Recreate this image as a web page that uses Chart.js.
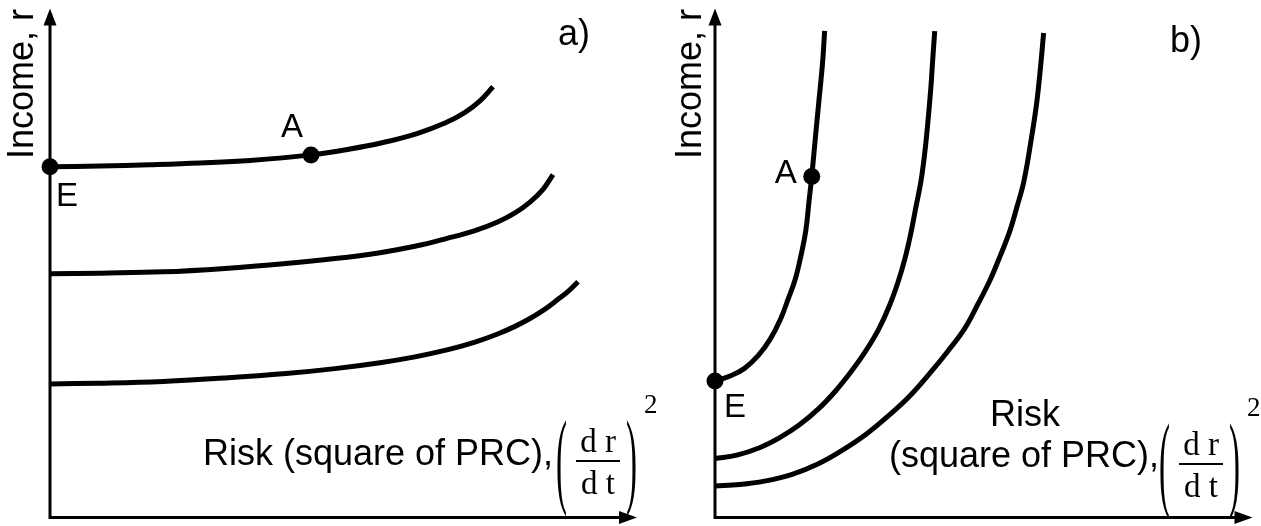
<!DOCTYPE html>
<html>
<head>
<meta charset="utf-8">
<script src="https://cdn.jsdelivr.net/npm/chart.js@4.4.1/dist/chart.umd.min.js"></script>
<style>
  html, body { margin: 0; padding: 0; background: #fff; }
  #wrap { position: relative; width: 1261px; height: 526px; overflow: hidden; }
  canvas { position: absolute; top: 0; }
  #chartA { left: 0; }
  #chartB { left: 640px; }
</style>
</head>
<body>
<div id="wrap">
  <canvas id="chartB" width="621" height="526"></canvas>
  <canvas id="chartA" width="680" height="526"></canvas>
</div>
<script>
// panel a) - flat indifference curves (risk on x, income on y)
var riskA1   = [0, 8.52, 17.04, 25.55, 34.07, 44.46, 51.11, 56.73, 62.52, 67.29, 70.70, 73.25, 75.47];
var incomeA1 = [68.92, 69.05, 69.31, 69.65, 70.15, 71.24, 72.39, 73.67, 75.44, 77.49, 79.61, 81.87, 84.63];
var riskA2   = [0, 8.52, 19.25, 29.81, 40.20, 48.55, 56.22, 62.18, 67.63, 72.40, 76.15, 79.22, 81.77, 83.99, 85.69];
var incomeA2 = [47.88, 48.01, 48.26, 48.94, 49.90, 50.87, 52.03, 53.28, 54.83, 56.37, 58.01, 59.85, 61.97, 64.48, 67.37];
var riskA3   = [0, 8.52, 19.25, 29.81, 40.20, 48.55, 56.22, 62.18, 67.63, 72.40, 76.15, 79.22, 81.77, 84.33, 86.54, 88.42, 89.95];
var incomeA3 = [26.25, 26.39, 26.74, 27.41, 28.28, 29.25, 30.41, 31.56, 32.92, 34.46, 36.00, 37.55, 39.09, 40.93, 42.86, 44.59, 46.33];

// panel b) - steep indifference curves
var riskB1   = [0, 2.8, 5.5, 8.1, 10.3, 12.2, 13.6, 14.9, 16.0, 16.9, 17.5, 18.0, 18.6, 19.3, 20.0, 20.4];
var incomeB1 = [26.8, 27.8, 29.3, 31.9, 35.1, 39.0, 42.9, 46.7, 51.5, 56.4, 62.2, 67.0, 73.8, 81.5, 89.2, 95.6];
var riskB2   = [0, 4.05, 8.29, 11.97, 15.65, 19.34, 22.47, 25.41, 27.99, 30.39, 32.41, 34.07, 35.36, 36.46, 37.38, 38.31, 39.04, 39.60, 40.15, 40.52, 40.88];
var incomeB2 = [11.58, 12.26, 13.71, 15.64, 18.15, 21.43, 24.90, 28.76, 32.63, 36.87, 41.51, 46.33, 50.97, 55.98, 61.00, 66.02, 71.81, 77.61, 84.36, 90.15, 95.56];
var riskB3   = [0, 4.60, 9.21, 14.36, 19.34, 23.57, 28.18, 32.78, 36.46, 40.15, 43.28, 46.41, 48.80, 51.20, 53.04, 54.88, 56.17, 57.46, 58.75, 59.85, 60.59, 61.14];
var incomeB3 = [6.18, 6.47, 7.14, 8.49, 10.62, 13.13, 16.41, 20.46, 24.13, 28.57, 32.63, 37.07, 41.70, 46.72, 51.35, 56.37, 61.00, 66.02, 73.75, 81.47, 88.80, 95.17];

// marked points: names, risk, income
var pointNamesA  = ['E', 'A'];
var pointRiskA   = [0, 44.46];
var pointIncomeA = [68.92, 71.24];
var pointNamesB  = ['E', 'A'];
var pointRiskB   = [0, 18.0];
var pointIncomeB = [26.8, 67.0];

var SANS = '"Liberation Sans", Arial, sans-serif';
var SERIF = '"Liberation Serif", "Times New Roman", serif';

function curve(xs, ys) {
    return {
        data: xs.map(function (x, i) { return { x: x, y: ys[i] }; }),
        showLine: true,
        borderColor: '#000',
        borderWidth: 5,
        borderCapStyle: 'butt',
        pointRadius: 0,
        tension: 0.4,
        fill: false,
        clip: false
    };
}

function dots(xs, ys) {
    return {
        data: xs.map(function (x, i) { return { x: x, y: ys[i] }; }),
        showLine: false,
        pointRadius: 8.5,
        pointBackgroundColor: '#000',
        pointBorderColor: '#000',
        pointBorderWidth: 0,
        clip: false
    };
}

// axes with arrow heads, drawn under the curves
var axesPlugin = {
    id: 'axesArrows',
    beforeDatasetsDraw: function (chart) {
        var ctx = chart.ctx, a = chart.chartArea;
        ctx.save();
        ctx.strokeStyle = '#000';
        ctx.fillStyle = '#000';
        ctx.lineWidth = 3;
        ctx.beginPath();
        ctx.moveTo(a.left, a.top + 10);
        ctx.lineTo(a.left, a.bottom);
        ctx.lineTo(a.right - 10, a.bottom);
        ctx.stroke();
        // arrow heads
        ctx.beginPath();
        ctx.moveTo(a.left, a.top);
        ctx.lineTo(a.left - 6.5, a.top + 17);
        ctx.lineTo(a.left + 6.5, a.top + 17);
        ctx.closePath();
        ctx.fill();
        ctx.beginPath();
        ctx.moveTo(a.right, a.bottom);
        ctx.lineTo(a.right - 18, a.bottom - 6.5);
        ctx.lineTo(a.right - 18, a.bottom + 6.5);
        ctx.closePath();
        ctx.fill();
        ctx.restore();
    }
};

function drawFraction(ctx, x, y) {
    // (dr/dt)^2 with tall parentheses; x = left edge, y = fraction bar
    ctx.save();
    ctx.fillStyle = '#000';
    ctx.textBaseline = 'alphabetic';
    ctx.font = '33px ' + SERIF;
    ctx.textAlign = 'center';
    ctx.fillText('d r', x + 42, y - 9);
    ctx.fillText('d t', x + 42, y + 33);
    ctx.fillRect(x + 20, y - 1, 44, 2);
    ctx.font = '27px ' + SERIF;
    ctx.textAlign = 'left';
    ctx.fillText('2', x + 88, y - 48);
    ctx.font = '30px ' + SERIF;
    ctx.save();
    ctx.translate(x, y + 33);
    ctx.scale(1.1, 3.5);
    ctx.fillText('(', 0, 0);
    ctx.restore();
    ctx.save();
    ctx.translate(x + 70, y + 33);
    ctx.scale(1.1, 3.5);
    ctx.fillText(')', 0, 0);
    ctx.restore();
    ctx.restore();
}

// axis titles, panel letters and point names
var labelsPlugin = {
    id: 'figureLabels',
    afterDatasetsDraw: function (chart, args, opts) {
        var ctx = chart.ctx;
        var xs = chart.scales.x, ys = chart.scales.y;
        ctx.save();
        ctx.fillStyle = '#000';
        ctx.textBaseline = 'alphabetic';

        // vertical axis title
        ctx.save();
        ctx.font = '36px ' + SANS;
        ctx.textAlign = 'center';
        ctx.translate(opts.yTitle[0], opts.yTitle[1]);
        ctx.rotate(-Math.PI / 2);
        ctx.fillText('Income, r', 0, 0);
        ctx.restore();

        // panel letter
        ctx.font = '36px ' + SANS;
        ctx.textAlign = 'left';
        ctx.fillText(opts.letter, opts.letterPos[0], opts.letterPos[1]);

        // horizontal axis title
        ctx.textAlign = opts.xTitleAlign;
        opts.xTitle.forEach(function (t) {
            ctx.fillText(t[0], t[1], t[2]);
        });
        drawFraction(ctx, opts.fraction[0], opts.fraction[1]);

        // point names next to the dots
        ctx.font = '33px ' + SANS;
        ctx.textAlign = 'left';
        opts.names.forEach(function (n, i) {
            var px = xs.getPixelForValue(opts.risk[i]);
            var py = ys.getPixelForValue(opts.income[i]);
            ctx.fillText(n, px + opts.nameOffsets[i][0], py + opts.nameOffsets[i][1]);
        });
        ctx.restore();
    }
};

function makeChart(id, datasets, padding, labelOpts) {
    return new Chart(document.getElementById(id), {
        type: 'scatter',
        data: { datasets: datasets },
        options: {
            responsive: false,
            animation: false,
            devicePixelRatio: 1,
            events: [],
            layout: { padding: padding },
            scales: {
                x: { type: 'linear', min: 0, max: 100, display: false },
                y: { type: 'linear', min: 0, max: 100, display: false }
            },
            plugins: {
                legend: { display: false },
                tooltip: { enabled: false },
                figureLabels: labelOpts
            }
        },
        plugins: [axesPlugin, labelsPlugin]
    });
}

makeChart('chartA', [
    curve(riskA1, incomeA1),
    curve(riskA2, incomeA2),
    curve(riskA3, incomeA3),
    dots(pointRiskA, pointIncomeA)
], { left: 50, right: 43, top: 4, bottom: 4 }, {
    yTitle: [33, 84],
    letter: 'a)',
    letterPos: [558, 45],
    xTitleAlign: 'right',
    xTitle: [['Risk (square of PRC),', 553, 465]],
    fraction: [556, 461],
    names: pointNamesA,
    risk: pointRiskA,
    income: pointIncomeA,
    nameOffsets: [[6, 39], [-30, -18]]
});

makeChart('chartB', [
    curve(riskB1, incomeB1),
    curve(riskB2, incomeB2),
    curve(riskB3, incomeB3),
    dots(pointRiskB, pointIncomeB)
], { left: 75, right: 3, top: 4, bottom: 4 }, {
    yTitle: [61, 84],
    letter: 'b)',
    letterPos: [530, 52],
    xTitleAlign: 'center',
    xTitle: [['Risk', 385, 426], ['(square of PRC),', 384, 467]],
    fraction: [519, 464],
    names: pointNamesB,
    risk: pointRiskB,
    income: pointIncomeB,
    nameOffsets: [[9, 36], [-37, 7]]
});
</script>
</body>
</html>
